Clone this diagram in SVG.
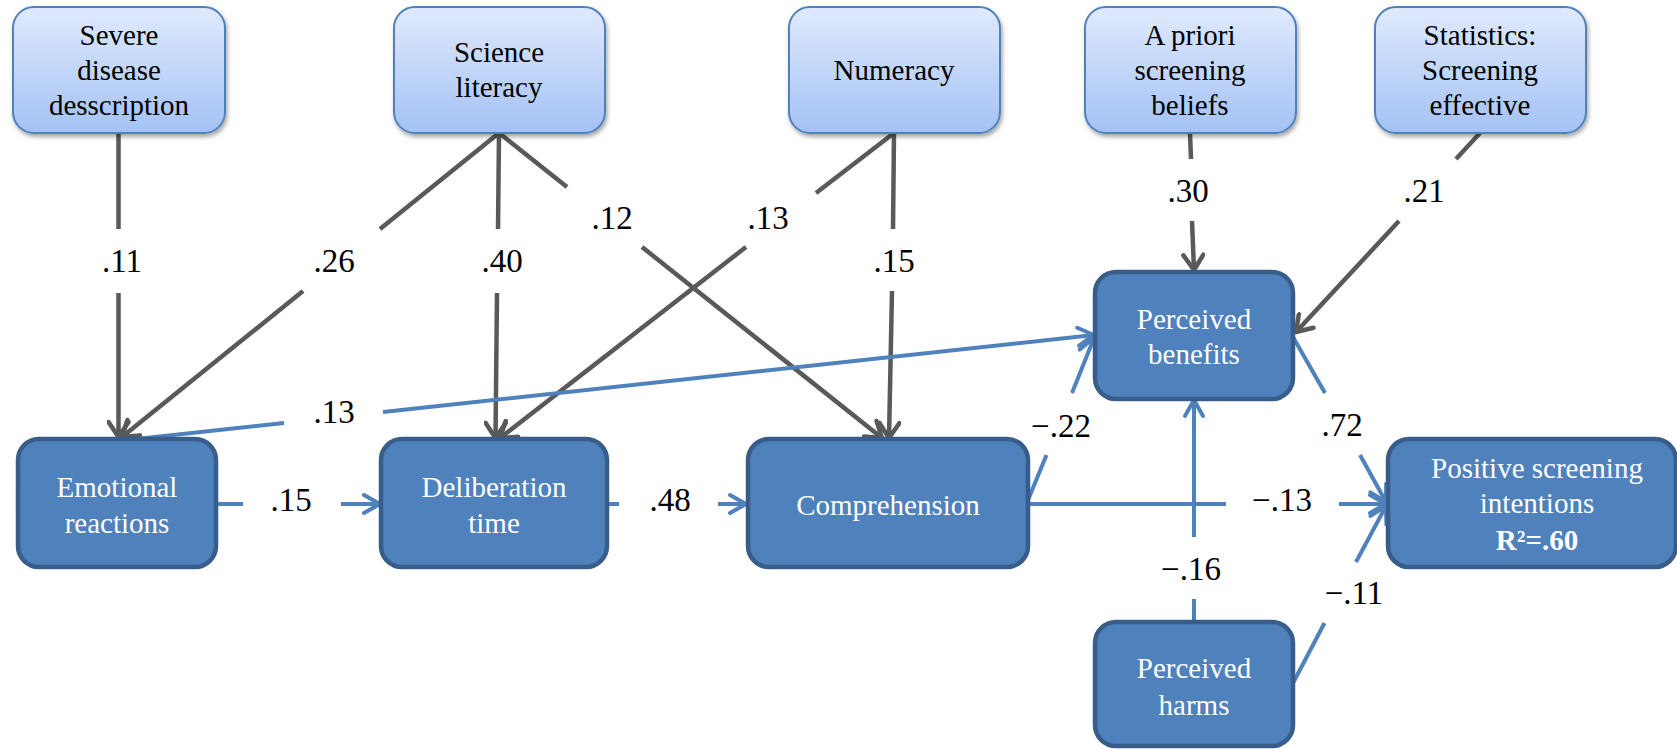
<svg xmlns="http://www.w3.org/2000/svg" width="1677" height="749" viewBox="0 0 1677 749">
  <defs>
    <linearGradient id="inputFill" x1="0" y1="0" x2="0" y2="1">
      <stop offset="0" stop-color="#e0eafd"/>
      <stop offset="1" stop-color="#a3c2f5"/>
    </linearGradient>
    <filter id="shadow" x="-10%" y="-10%" width="125%" height="130%">
      <feDropShadow dx="1.5" dy="3" stdDeviation="2" flood-color="#000" flood-opacity="0.35"/>
    </filter>
    <marker id="arrGray" viewBox="-20 -12 24 24" refX="0" refY="0" markerWidth="24" markerHeight="24" markerUnits="userSpaceOnUse" orient="auto">
      <path d="M-15,-10 L0,0 L-15,10" fill="none" stroke="#595959" stroke-width="4.5" stroke-linecap="round" stroke-linejoin="round"/>
    </marker>
    <marker id="arrBlue" viewBox="-20 -12 24 24" refX="0" refY="0" markerWidth="24" markerHeight="24" markerUnits="userSpaceOnUse" orient="auto">
      <path d="M-16,-9 L0,0 L-16,9" fill="none" stroke="#4f81bd" stroke-width="4" stroke-linecap="round" stroke-linejoin="round"/>
    </marker>
  </defs>
  <style>
    .inbox { fill: url(#inputFill); stroke: #4f81bd; stroke-width: 2; filter: url(#shadow); }
    .box { fill: #4f81bd; stroke: #385d8a; stroke-width: 4.5; }
    text { font-family: 'Liberation Serif', 'DejaVu Serif', 'Noto Serif', Times, serif; text-anchor: middle; }
    .intxt { font-size: 29px; fill: #000; }
    .txt { font-size: 29px; fill: #fff; }
    .lbl { font-size: 33px; fill: #000; }
    .g { stroke: #595959; stroke-width: 4.5; fill: none; }
    .b { stroke: #4f81bd; stroke-width: 4; fill: none; }
    .ga { marker-end: url(#arrGray); }
    .ba { marker-end: url(#arrBlue); }
  </style>

  <rect width="1677" height="749" fill="#fff"/>

  <!-- connectors -->
  <g id="connectors">
    <!-- exogenous inputs (gray) -->
    <line class="g" x1="118.5" y1="133" x2="118.5" y2="229"/>
    <line class="g ga" x1="118.5" y1="293" x2="118.5" y2="437"/>

    <line class="g" x1="499" y1="133" x2="380" y2="229"/>
    <line class="g ga" x1="303" y1="291" x2="122" y2="437"/>

    <line class="g" x1="499" y1="133" x2="498" y2="229"/>
    <line class="g ga" x1="497" y1="293" x2="495.5" y2="438"/>

    <line class="g" x1="499" y1="133" x2="567" y2="187"/>
    <line class="g ga" x1="642" y1="247" x2="882" y2="438"/>

    <line class="g" x1="894" y1="133" x2="816" y2="193"/>
    <line class="g ga" x1="746" y1="247" x2="500" y2="438"/>

    <line class="g" x1="894" y1="133" x2="893" y2="229"/>
    <line class="g ga" x1="892" y1="291" x2="889" y2="438"/>

    <line class="g" x1="1190" y1="133" x2="1191" y2="159"/>
    <line class="g ga" x1="1192" y1="221" x2="1194" y2="270"/>

    <line class="g" x1="1480" y1="133" x2="1456" y2="159"/>
    <line class="g ga" x1="1399" y1="221" x2="1296" y2="332"/>

    <!-- structural paths (blue) -->
    <line class="b" x1="216" y1="504" x2="243" y2="504"/>
    <line class="b ba" x1="341" y1="504" x2="380" y2="504"/>

    <line class="b" x1="607" y1="504" x2="619" y2="504"/>
    <line class="b ba" x1="718" y1="504" x2="746" y2="504"/>

    <line class="b" x1="118" y1="441" x2="284" y2="423"/>
    <line class="b ba" x1="383" y1="412" x2="1094" y2="335"/>

    <line class="b" x1="1028" y1="500" x2="1046.5" y2="455"/>
    <line class="b ba" x1="1072" y1="393" x2="1094" y2="338"/>

    <line class="b" x1="1028" y1="504" x2="1226" y2="504"/>
    <line class="b ba" x1="1339" y1="504" x2="1386" y2="504"/>

    <line class="b" x1="1293" y1="337" x2="1325" y2="393"/>
    <line class="b ba" x1="1360" y1="455" x2="1386" y2="502"/>

    <line class="b" x1="1194" y1="622" x2="1194" y2="599"/>
    <line class="b ba" x1="1194" y1="537" x2="1194" y2="400"/>

    <line class="b" x1="1292" y1="685" x2="1324.5" y2="623"/>
    <line class="b ba" x1="1356" y1="562" x2="1386" y2="506"/>

    <!-- path coefficients -->
    <text class="lbl" x="122" y="272">.11</text>
    <text class="lbl" x="334" y="272">.26</text>
    <text class="lbl" x="502" y="272">.40</text>
    <text class="lbl" x="612" y="229">.12</text>
    <text class="lbl" x="768" y="229">.13</text>
    <text class="lbl" x="894" y="272">.15</text>
    <text class="lbl" x="1188" y="202">.30</text>
    <text class="lbl" x="1424" y="202">.21</text>
    <text class="lbl" x="334" y="423">.13</text>
    <text class="lbl" x="291" y="511">.15</text>
    <text class="lbl" x="670" y="511">.48</text>
    <text class="lbl" x="1061" y="437">−.22</text>
    <text class="lbl" x="1342" y="436">.72</text>
    <text class="lbl" x="1282" y="511">−.13</text>
    <text class="lbl" x="1191" y="580">−.16</text>
    <text class="lbl" x="1354" y="604">−.11</text>
  </g>

  <!-- input variables -->
  <g id="severe-disease">
    <rect class="inbox" x="13" y="7" width="212" height="126" rx="21"/>
    <text class="intxt" x="119" y="45">Severe</text>
    <text class="intxt" x="119" y="80">disease</text>
    <text class="intxt" x="119" y="115">desscription</text>
  </g>
  <g id="science-literacy">
    <rect class="inbox" x="394" y="7" width="211" height="126" rx="21"/>
    <text class="intxt" x="499" y="62">Science</text>
    <text class="intxt" x="499" y="97">literacy</text>
  </g>
  <g id="numeracy">
    <rect class="inbox" x="789" y="7" width="211" height="126" rx="21"/>
    <text class="intxt" x="894" y="80">Numeracy</text>
  </g>
  <g id="a-priori-beliefs">
    <rect class="inbox" x="1085" y="7" width="211" height="126" rx="21"/>
    <text class="intxt" x="1190" y="45">A priori</text>
    <text class="intxt" x="1190" y="80">screening</text>
    <text class="intxt" x="1190" y="115">beliefs</text>
  </g>
  <g id="statistics-effective">
    <rect class="inbox" x="1375" y="7" width="211" height="126" rx="21"/>
    <text class="intxt" x="1480" y="45">Statistics:</text>
    <text class="intxt" x="1480" y="80">Screening</text>
    <text class="intxt" x="1480" y="115">effective</text>
  </g>

  <!-- model variables -->
  <g id="emotional-reactions">
    <rect class="box" x="18" y="439" width="198" height="128" rx="21"/>
    <text class="txt" x="117" y="497">Emotional</text>
    <text class="txt" x="117" y="533">reactions</text>
  </g>
  <g id="deliberation-time">
    <rect class="box" x="381" y="439" width="226" height="128" rx="21"/>
    <text class="txt" x="494" y="497">Deliberation</text>
    <text class="txt" x="494" y="533">time</text>
  </g>
  <g id="comprehension">
    <rect class="box" x="748" y="439" width="280" height="128" rx="21"/>
    <text class="txt" x="888" y="515">Comprehension</text>
  </g>
  <g id="perceived-benefits">
    <rect class="box" x="1095" y="272" width="198" height="127" rx="21"/>
    <text class="txt" x="1194" y="329">Perceived</text>
    <text class="txt" x="1194" y="364">benefits</text>
  </g>
  <g id="perceived-harms">
    <rect class="box" x="1095" y="622" width="198" height="124" rx="21"/>
    <text class="txt" x="1194" y="678">Perceived</text>
    <text class="txt" x="1194" y="715">harms</text>
  </g>
  <g id="screening-intentions">
    <rect class="box" x="1388" y="439" width="288" height="128" rx="21"/>
    <text class="txt" x="1537" y="478">Positive screening</text>
    <text class="txt" x="1537" y="513">intentions</text>
    <text class="txt" x="1537" y="550" font-weight="bold">R²=.60</text>
  </g>
</svg>
